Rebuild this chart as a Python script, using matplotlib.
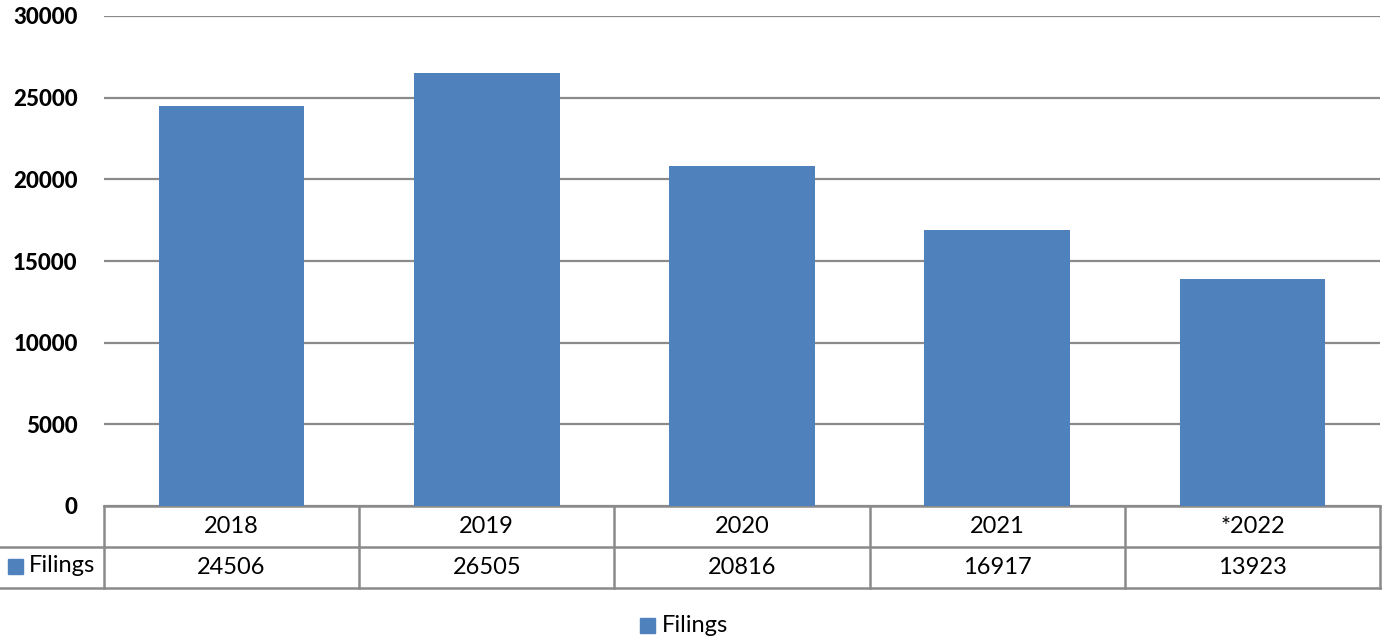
import matplotlib.pyplot as plt
import matplotlib.patches as mpatches

years = ['2018', '2019', '2020', '2021', '*2022']
filings = [24506, 26505, 20816, 16917, 13923]
yticks = [0, 5000, 10000, 15000, 20000, 25000, 30000]

plt.rcParams['font.family'] = ['Lato', 'DejaVu Sans']

blue = '#4F81BD'
gray = '#8A8A8A'

W, H = 1386, 641
fig = plt.figure(figsize=(W / 100, H / 100), dpi=100)
# plot area in pixels: x 104..1380, y 16..506
ax = fig.add_axes([104 / W, (H - 506) / H, 1276 / W, 490 / H])

x = range(len(years))
ax.bar(x, filings, width=0.57, color=blue, zorder=3)
ax.set_xlim(-0.5, len(years) - 0.5)
ax.set_ylim(0, 30000)
ax.set_yticks(yticks)
ax.set_yticklabels([str(v) for v in yticks], fontsize=16, fontweight='black')
ax.set_xticks([])
ax.tick_params(axis='y', length=0, pad=19)
ax.grid(axis='y', color=gray, linewidth=1.6, zorder=0)
for s in ax.spines.values():
    s.set_visible(False)

# data table under the axis
row_h = 41 / 490
left_edge = -104 / 1276
tr = ax.transAxes
lw = 1.8
ax.plot([0, 1], [0, 0], color=gray, lw=lw, transform=tr, clip_on=False)
ax.plot([left_edge, 1], [-row_h, -row_h], color=gray, lw=lw, transform=tr, clip_on=False)
ax.plot([left_edge, 1], [-2 * row_h, -2 * row_h], color=gray, lw=lw, transform=tr, clip_on=False)
n = len(years)
for k in range(n + 1):
    ax.plot([k / n, k / n], [0, -2 * row_h], color=gray, lw=lw, transform=tr, clip_on=False)
for i, (yr, v) in enumerate(zip(years, filings)):
    ax.text((i + 0.5) / n, -0.5 * row_h, yr, transform=tr, ha='center', va='center', fontsize=17)
    ax.text((i + 0.5) / n, -1.5 * row_h, str(v), transform=tr, ha='center', va='center', fontsize=17)

# row header with legend key
fig.patches.append(mpatches.Rectangle((8 / W, (H - 574) / H), 15 / W, 15 / H,
                                      color=blue, transform=fig.transFigure))
fig.text(29 / W, (H - 566) / H, 'Filings', ha='left', va='center', fontsize=17)

# legend below
fig.patches.append(mpatches.Rectangle((640 / W, (H - 633) / H), 15 / W, 15 / H,
                                      color=blue, transform=fig.transFigure))
fig.text(662 / W, (H - 625) / H, 'Filings', ha='left', va='center', fontsize=17)

fig.savefig('out.png', dpi=100)
